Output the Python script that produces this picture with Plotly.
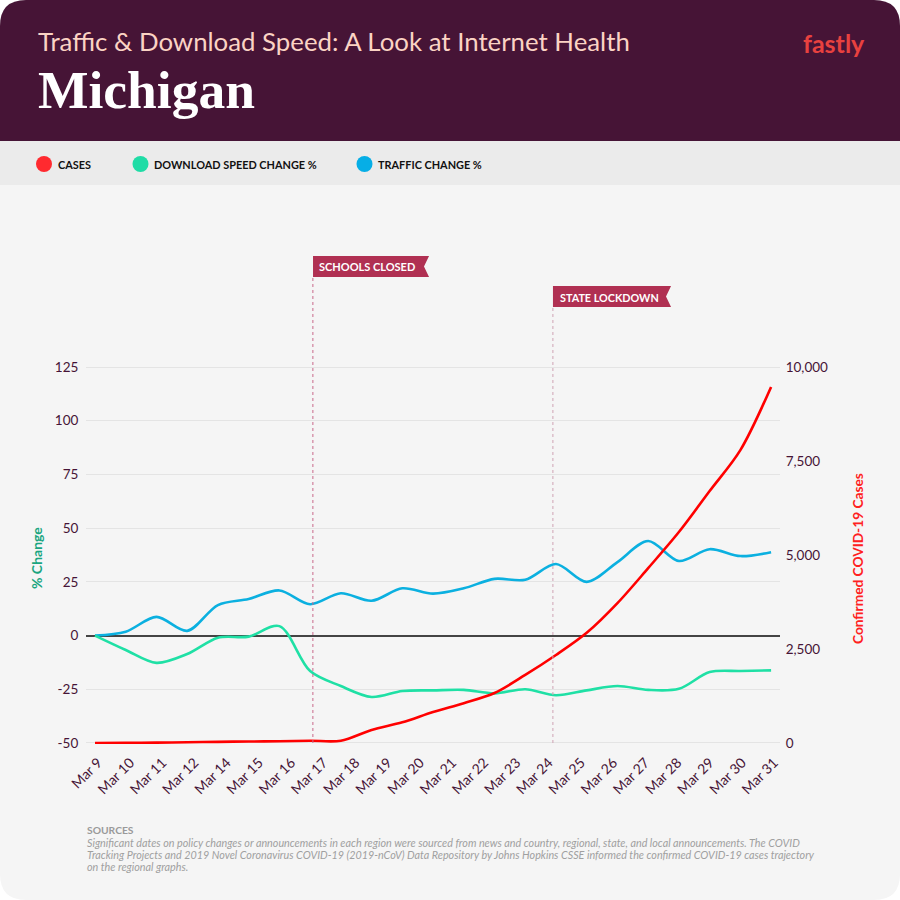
import plotly.graph_objects as go

date_labels = ['Mar 9', 'Mar 10', 'Mar 11', 'Mar 12', 'Mar 14', 'Mar 15', 'Mar 16', 'Mar 17', 'Mar 18',
               'Mar 19', 'Mar 20', 'Mar 21', 'Mar 22', 'Mar 23', 'Mar 24', 'Mar 25', 'Mar 26', 'Mar 27',
               'Mar 28', 'Mar 29', 'Mar 30', 'Mar 31']

# the lines have one point more than there are labels, so they run on their own index
point_index = list(range(23))
traffic = [0, 1.8, 8.7, 2.2, 14.2, 17, 21, 14.6, 19.7, 16.2, 22, 19.5, 22, 26.4, 26, 33.3, 25, 34.2, 44,
           34.7, 40.2, 37, 38.8]
download = [0, -6.7, -12.7, -8.6, -1, -0.5, 4.4, -16.5, -23.5, -28.6, -25.8, -25.5, -25.3, -26.9, -25,
            -27.8, -25.5, -23.5, -25.3, -24.8, -17, -16.5, -16.2]
cases = [0, 5, 10, 20, 30, 40, 45, 60, 60, 345, 550, 825, 1060, 1330, 1810, 2340, 2930, 3720, 4650,
         5610, 6700, 7790, 9470]

pct_ticks = [-50, -25, 0, 25, 50, 75, 100, 125]
case_ticks = [0, 2500, 5000, 7500, 10000]

source_lines = [
    'Significant dates on policy changes or announcements in each region were sourced from news and country, regional, state, and local announcements. The COVID',
    'Tracking Projects and 2019 Novel Coronavirus COVID-19 (2019-nCoV) Data Repository by Johns Hopkins CSSE informed the confirmed COVID-19 cases trajectory',
    'on the regional graphs.',
]

DARK = '#461436'
FONT = 'Lato'
W = 900
H = 900


def px(x):
    return x / W


def py(y):
    return 1 - y / H


def rect(x0, y0, x1, y1, color):
    return dict(type='rect', xref='paper', yref='paper', x0=px(x0), x1=px(x1), y0=py(y0), y1=py(y1),
                fillcolor=color, line_width=0, layer='below')


def text(x, y, s, size, color, family=FONT, anchor='left', angle=0):
    return dict(xref='paper', yref='paper', x=px(x), y=py(y), text=s, showarrow=False, xanchor=anchor,
                yanchor='middle', align='left', textangle=angle, font=dict(size=size, color=color, family=family))


def dot(cx, cy, r, color):
    return dict(type='circle', xref='paper', yref='paper', x0=px(cx - r), x1=px(cx + r), y0=py(cy + r),
                y1=py(cy - r), fillcolor=color, line_width=0)


def flag(x0, x1, y0, y1):
    ym = (y0 + y1) / 2
    pts = [(x0, y0), (x1, y0), (x1 - 5, ym), (x1, y1), (x0, y1)]
    path = 'M ' + ' L '.join(f'{px(a):.4f},{py(b):.4f}' for a, b in pts) + ' Z'
    return dict(type='path', xref='paper', yref='paper', path=path, fillcolor='#b03052', line_width=0)


def corner_path(x0, y0, x1, y1, r):
    # rounded box, corners drawn with quadratic curves
    pts = [f'M {px(x0 + r):.4f},{py(y0):.4f}', f'L {px(x1 - r):.4f},{py(y0):.4f}',
           f'Q {px(x1):.4f},{py(y0):.4f} {px(x1):.4f},{py(y0 + r):.4f}',
           f'L {px(x1):.4f},{py(y1 - r):.4f}', f'Q {px(x1):.4f},{py(y1):.4f} {px(x1 - r):.4f},{py(y1):.4f}',
           f'L {px(x0 + r):.4f},{py(y1):.4f}', f'Q {px(x0):.4f},{py(y1):.4f} {px(x0):.4f},{py(y1 - r):.4f}',
           f'L {px(x0):.4f},{py(y0 + r):.4f}', f'Q {px(x0):.4f},{py(y0):.4f} {px(x0 + r):.4f},{py(y0):.4f}', 'Z']
    return ' '.join(pts)


fig = go.Figure()

fig.add_trace(go.Scatter(x=point_index, y=traffic, mode='lines', name='Traffic Change %', yaxis='y',
                         line=dict(color='#0bb0e0', width=2.6, shape='spline', smoothing=0.9), cliponaxis=False))
fig.add_trace(go.Scatter(x=point_index, y=download, mode='lines', name='Download Speed Change %', yaxis='y',
                         line=dict(color='#1fe0a5', width=2.6, shape='spline', smoothing=0.9), cliponaxis=False))
fig.add_trace(go.Scatter(x=point_index, y=cases, mode='lines', name='Cases', yaxis='y2',
                         line=dict(color='#ff0000', width=2.6, shape='spline', smoothing=0.9), cliponaxis=False))

shapes = [
    dict(type='path', xref='paper', yref='paper', path=corner_path(0, 0, 900, 900, 26),
         fillcolor='#f5f5f5', line_width=0, layer='below'),
    dict(type='path', xref='paper', yref='paper', path=corner_path(0, 0, 900, 170, 26),
         fillcolor=DARK, line_width=0, layer='below'),
    rect(0, 141, 900, 185, '#ebebeb'),
    dot(44, 164, 8, '#ff2a2f'),
    dot(140.5, 164, 8, '#1fdca6'),
    dot(364.5, 164, 8, '#06aee6'),
    dict(type='line', xref='x', yref='paper', x0=7.09, x1=7.09, y0=py(743), y1=py(277),
         line=dict(color='#c9688a', width=1, dash='dot')),
    dict(type='line', xref='x', yref='paper', x0=14.9, x1=14.9, y0=py(743), y1=py(307),
         line=dict(color='#cfa3b4', width=1, dash='dot')),
    flag(313, 429, 256, 277),
    flag(553, 671, 286, 307),
]

notes = [
    text(36, 41.5, 'Traffic & Download Speed: A Look at Internet Health', 25.8, '#fbd3c4'),
    text(36, 90, '<b>Michigan</b>', 53.5, '#ffffff', family='Liberation Serif'),
    text(801, 43, '<b>fastly</b>', 25, '#e8413f'),
    text(56, 164, '<b>CASES</b>', 10.9, '#111111'),
    text(152, 164, '<b>DOWNLOAD SPEED CHANGE %</b>', 10.9, '#111111'),
    text(376, 164, '<b>TRAFFIC CHANGE %</b>', 10.9, '#111111'),
    text(317, 267, '<b>SCHOOLS CLOSED</b>', 11, '#ffffff'),
    text(558, 297, '<b>STATE LOCKDOWN</b>', 10.8, '#ffffff'),
    text(36, 558, '<b>% Change</b>', 14, '#1aa57f', anchor='center', angle=-90),
    text(857, 559, '<b>Confirmed COVID-19 Cases</b>', 13.7, '#ff2020', anchor='center', angle=-90),
    text(85, 830, '<b>SOURCES</b>', 10.3, '#9a9a9a'),
]
for line_y, line in zip([842, 854, 866], source_lines):
    notes.append(text(85, line_y, f'<i>{line}</i>', 10.78, '#a0a0a0'))

fig.update_layout(
    width=W, height=H,
    margin=dict(l=0, r=0, t=0, b=0, autoexpand=False),
    paper_bgcolor='#ffffff',
    plot_bgcolor='rgba(0,0,0,0)',
    showlegend=False,
    font=dict(family=FONT, color=DARK),
    shapes=shapes,
    annotations=notes,
    xaxis=dict(
        domain=[px(86), px(780)], range=[-0.293, 22.29],
        tickvals=[i * 22 / 21 + 0.1 for i in range(len(date_labels))], ticktext=date_labels,
        tickangle=-45, tickfont=dict(size=14, color=DARK), showgrid=False, zeroline=False,
        showline=False, ticks='outside', ticklen=4, tickcolor='rgba(0,0,0,0)',
    ),
    # ranges run a pixel past the end ticks, plotly drops gridlines sitting on the plot edge
    yaxis=dict(
        domain=[py(744), py(366)], range=[-50.47, 125.47],
        tickvals=pct_ticks, ticktext=[str(v) for v in pct_ticks],
        tickfont=dict(size=13.5, color=DARK), gridcolor='#e4e4e4', gridwidth=1.2,
        zeroline=True, zerolinecolor='#444444', zerolinewidth=1.5,
        showline=False, ticks='outside', ticklen=4, tickcolor='rgba(0,0,0,0)',
    ),
    yaxis2=dict(
        overlaying='y', side='right', anchor='x', range=[-26.6, 10026.6],
        tickvals=case_ticks, tickformat=',',
        tickfont=dict(size=13.5, color=DARK), showgrid=False, zeroline=False,
        showline=False, ticks='outside', ticklen=2, tickcolor='rgba(0,0,0,0)',
    ),
)

# page margin would push the 900px figure past the window edge
fig.write_html("out.html", config=dict(displayModeBar=False), post_script="document.body.style.margin='0';")
